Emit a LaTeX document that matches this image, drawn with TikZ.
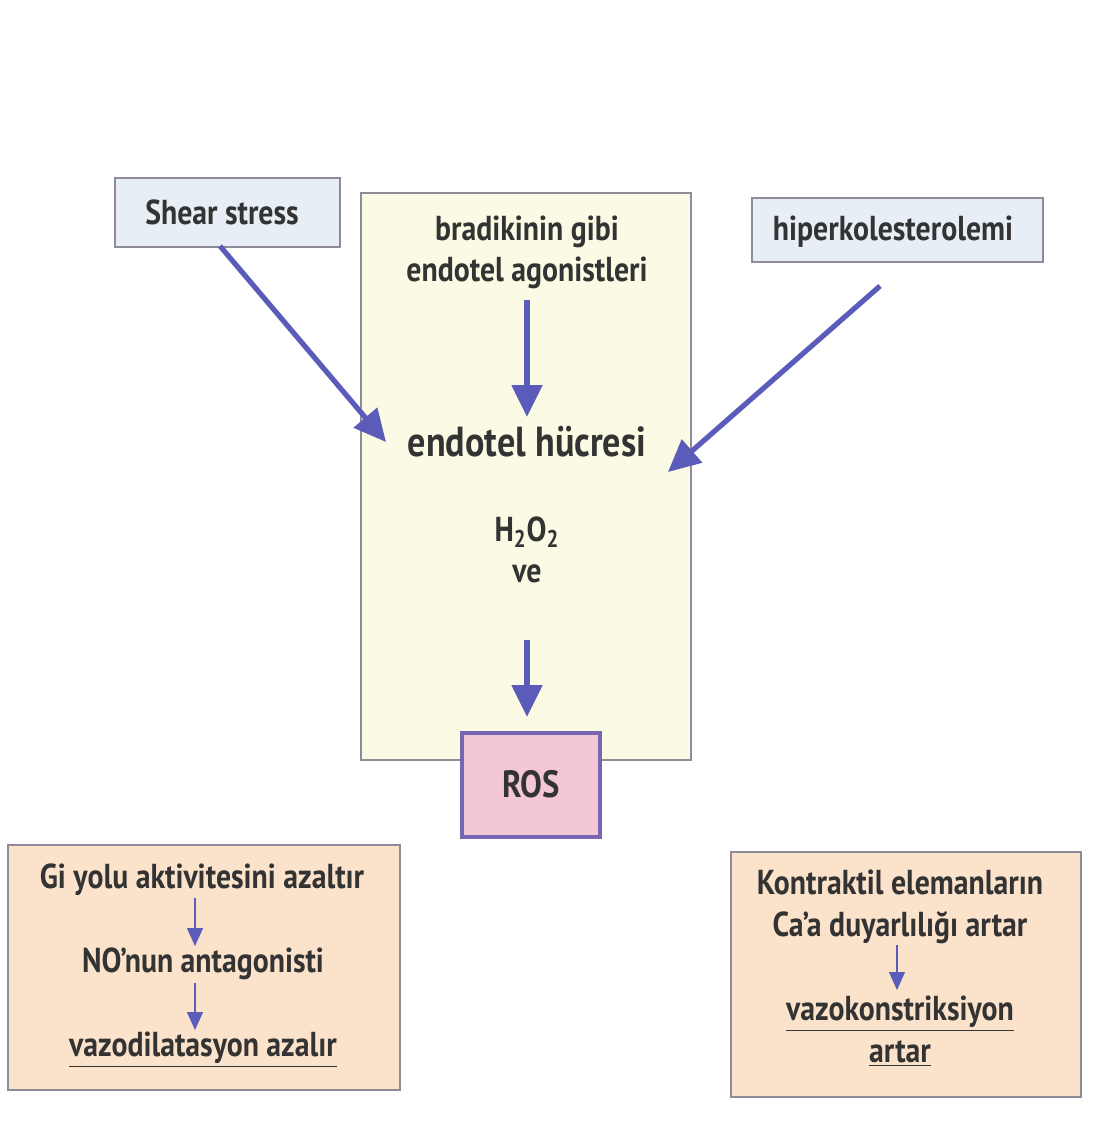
\documentclass[tikz,border=0pt]{standalone}
\usepackage{fontspec}
\setmainfont{PT Sans}[BoldFont={PT Sans Bold}]
\newfontfamily\diagfont{PT Sans Bold}[FakeStretch=0.86]
\usetikzlibrary{arrows.meta}
\definecolor{txt}{HTML}{333333}
\definecolor{arr}{HTML}{5B5CBA}
\definecolor{bordergray}{HTML}{8E8C98}
\definecolor{bluefill}{HTML}{E7EEF5}
\definecolor{yellowfill}{HTML}{FBFBE5}
\definecolor{pinkfill}{HTML}{F3C7D5}
\definecolor{rosborder}{HTML}{7866B2}
\definecolor{peachfill}{HTML}{FBE2CB}
\newcommand{\ul}[1]{\underline{#1}}
\tikzset{
  box/.style={draw=bordergray, line width=1pt, inner sep=0pt},
  lbl/.style={text=txt, font=\diagfont\fontsize{17.3}{20.5}\selectfont, inner sep=0pt, align=center},
  lblwide/.style={text=txt, font=\diagfont\fontsize{17.3}{21}\selectfont, inner sep=0pt, align=center},
  biglbl/.style={text=txt, font=\diagfont\fontsize{21}{24}\selectfont, inner sep=0pt, align=center},
  roslbl/.style={text=txt, font=\diagfont\fontsize{19}{22}\selectfont, inner sep=0pt, align=center},
  bigarrow/.style={draw=arr, line width=2.6pt, -{Triangle[length=16pt,width=15pt]}},
  smallarrow/.style={draw=arr, line width=0.6pt, -{Triangle[length=9pt,width=8pt]}},
}
\begin{document}
\begin{tikzpicture}[x=0.5pt,y=-0.5pt]
\useasboundingbox[fill=white] (0,0) rectangle (1102,1125);
% boxes
\node[box, fill=yellowfill, minimum width=165pt, minimum height=283.5pt] (cell) at (526,476.5) {};
\node[box, fill=bluefill, minimum width=112.5pt, minimum height=34.5pt] (shear) at (227.5,212.5) {};
\node[box, fill=bluefill, minimum width=145.5pt, minimum height=32pt] (hiper) at (897.5,230) {};
\node[draw=rosborder, line width=2pt, fill=pinkfill, minimum width=69pt, minimum height=52pt, inner sep=0pt] (ros) at (531,785) {};
\node[box, fill=peachfill, minimum width=196pt, minimum height=122.5pt] (left) at (204,967.5) {};
\node[box, fill=peachfill, minimum width=175pt, minimum height=122.5pt] (right) at (906,974.5) {};
% texts
\node[lbl] (tshear) at (222,212) {Shear stress};
\node[lbl] (thiper) at (893,232) {hiperkolesterolemi};
\node[lbl] (tbrad) at (527,252) {bradikinin gibi\\endotel agonistleri};
\node[biglbl] (tcell) at (527,442) {endotel hücresi};
\node[lbl] (th2o2) at (527,550) {H\textsubscript{2}O\textsubscript{2}\\ve};
\node[roslbl] (tros) at (531,784) {ROS};
\node[lbl] (tgi) at (202,880) {Gi yolu aktivitesini azaltır};
\node[lbl] (tno) at (203,964) {NO’nun antagonisti};
\node[lbl] (tvd) at (203,1050) {\ul{vazodilatasyon azalır}};
\node[lblwide] (tkon) at (900,907) {Kontraktil elemanların\\Ca’a duyarlılığı artar};
\node[lblwide] (tvk) at (900,1031) {\ul{vazokonstriksiyon}\\\ul{artar}};
% coordinates for arrow ends
\coordinate (shearS) at (220,246);
\coordinate (cellW) at (386,442);
\coordinate (hiperS) at (880,286);
\coordinate (cellE) at (668,472);
% arrows
\draw[bigarrow] (shearS) -- (cellW);
\draw[bigarrow] (hiperS) -- (cellE);
\draw[bigarrow] (527,300) coordinate (b1) -- (527,417) coordinate (b2);
\draw[bigarrow] (527,640) coordinate (c1) -- (527,717) coordinate (c2);
\draw[smallarrow] (195,898) coordinate (g1) -- (195,946) coordinate (g2);
\draw[smallarrow] (195,983) coordinate (n1) -- (195,1030) coordinate (n2);
\draw[smallarrow] (897,945) coordinate (k1) -- (897,990) coordinate (k2);
\end{tikzpicture}
\end{document}
